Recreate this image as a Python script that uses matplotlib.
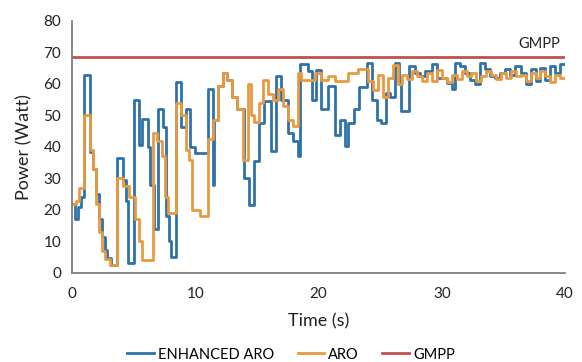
import matplotlib.pyplot as plt

# tempos de inicio de cada degrau (s) e potencia (W)
t_enh = [0, 0.25, 0.45, 0.75, 0.98, 1.42, 1.7, 1.95, 2.2, 2.45, 2.65, 2.85, 3.15,
         3.65, 4.1, 4.35, 4.55, 5.0, 5.4, 5.68, 6.14, 6.35, 6.6, 7.0, 7.4, 7.65,
         7.85, 8.05, 8.4, 8.85, 9.2, 9.6, 9.95, 10.4, 11.0, 11.4, 11.5, 11.8, 12.2,
         12.6, 13.0, 13.4, 13.96, 14.37, 14.78, 15.19, 15.6, 16.1, 16.5, 16.95,
         17.5, 17.9, 18.3, 18.5, 19.1, 19.5, 19.8, 20.2, 20.75, 21.3, 21.7, 22.1,
         22.4, 22.9, 23.3, 23.9, 24.3, 24.7, 25.1, 25.5, 25.8, 26.2, 26.5, 26.7,
         27.3, 27.8, 28.2, 28.6, 29.2, 29.6, 30.0, 30.4, 30.8, 31.1, 31.5, 31.9,
         32.3, 32.7, 33.1, 33.5, 33.9, 34.3, 34.7, 35.1, 35.5, 35.97, 36.4, 36.8,
         37.2, 37.6, 38.0, 38.4, 38.8, 39.2, 39.6]
p_enh = [22, 17, 21, 24, 63, 38.5, 33, 25, 17, 11.5, 7.3, 4.8, 2.6,
         36.5, 29.5, 23, 3, 55, 40.5, 49, 40, 28, 14, 52, 46.5, 18,
         10, 5, 60.5, 46.5, 52, 40, 38, 38, 58.5, 28, 48.7, 59.3, 63.5,
         61.4, 56, 52, 30, 21.6, 35.4, 47.6, 54.6, 38.7, 62.5, 55,
         44.5, 42, 37, 66.2, 64, 55, 64.5, 52, 59.3, 43.9, 48.7, 40.2,
         47.6, 52, 59, 66.8, 55, 48.7, 47.6, 57, 55.8, 66.8, 60, 51.4,
         65.7, 63.5, 62.5, 64, 66.2, 62, 62, 60.4, 58.3, 66.8, 65.7, 63.5,
         61.4, 59.9, 66.8, 64.6, 62.5, 62, 63.5, 64.6, 63, 65.7, 63.5, 59.9,
         64.6, 61, 65, 61.4, 65.7, 63.5, 66.2]

t_aro = [0, 0.3, 0.55, 0.98, 1.42, 1.7, 1.95, 2.2, 2.45, 2.7, 3.1, 3.6, 4.1, 4.6,
         5.1, 5.4, 5.65, 6.55, 6.85, 7.3, 7.5, 7.8, 8.4, 8.8, 9.2, 9.5, 9.75,
         10.4, 11.0, 11.4, 11.8, 12.2, 12.6, 13.0, 13.4, 13.83, 14.24, 14.5,
         14.78, 15.19, 15.46, 15.86, 16.27, 16.68, 17.09, 17.5, 17.9, 18.31,
         18.58, 19.67, 20.21, 20.75, 21.3, 22.4, 23.2, 24.0, 24.4, 24.8, 25.2,
         25.6, 26.0, 26.4, 26.8, 27.2, 27.6, 28.0, 28.4, 28.8, 29.2, 29.6, 30.0,
         30.4, 30.8, 31.2, 31.6, 32.0, 32.4, 32.8, 33.2, 33.6, 34.0, 34.4, 34.8,
         35.2, 35.6, 36.0, 36.4, 36.8, 37.2, 37.6, 38.0, 38.4, 38.8, 39.2, 39.6]
p_aro = [22, 23, 27, 50, 39, 33, 22, 13, 7, 4.5, 2.5, 30, 27.5, 24,
         17, 10, 4, 44.5, 42, 37, 24, 19, 54, 50, 39, 36, 20,
         18, 42.5, 48.7, 59.3, 63.5, 61.4, 56, 52, 36, 60, 50,
         48, 54, 61.4, 56.7, 55, 58.3, 53, 48.7, 46.6, 63.5,
         61.4, 63.5, 61.4, 62.5, 61, 63.5, 64.6, 61, 58, 63, 56,
         62, 66, 60, 63, 61.5, 64, 62.5, 61, 63.5, 61, 64.5, 62,
         60.5, 63, 61.5, 64, 62.5, 63.5, 61, 62.5, 64, 63, 61.5, 63.5,
         62, 64, 62.5, 63, 61, 63.5, 62, 64, 62.5, 60.5, 63, 62]

gmpp = 68.5
t_fim = 40

plt.rcParams['font.family'] = ['Lato', 'DejaVu Sans']

fig = plt.figure(figsize=(5.82, 3.62), dpi=100)
ax = fig.add_axes([0.124, 0.246, 0.847, 0.696])

ax.step(t_enh + [t_fim], p_enh + [p_enh[-1]], where='post', color='#2f72a8', lw=2.0, label='ENHANCED ARO')
ax.step(t_aro + [t_fim], p_aro + [p_aro[-1]], where='post', color='#e99a41', lw=2.0, label='ARO')
ax.plot([0, t_fim], [gmpp, gmpp], color='#c0504d', lw=2.0, label='GMPP')
ax.text(37.9, 72.6, 'GMPP', ha='center', va='center', fontsize=10.5, color='#222222')

ax.set_xlim(0, 40)
ax.set_ylim(0, 80)
ax.set_xticks(range(0, 41, 10))
ax.set_yticks(range(0, 81, 10))
ax.tick_params(axis='y', length=0, labelsize=11, colors='#222222', pad=8)
ax.tick_params(axis='x', length=0, labelsize=11, colors='#222222', pad=10)

for s in ['top', 'right']:
    ax.spines[s].set_visible(False)
for s in ['left', 'bottom']:
    ax.spines[s].set_color('#7f7f7f')
    ax.spines[s].set_linewidth(1.3)

ax.set_xlabel('Time (s)', fontsize=13, color='#222222', labelpad=9)
ax.set_ylabel('Power (Watt)', fontsize=13, color='#222222', labelpad=8)

fig.legend(loc='lower center', bbox_to_anchor=(0.5, -0.035), ncol=3, frameon=False,
           fontsize=10.5, handlelength=1.8, columnspacing=1.6, handletextpad=0.3)

fig.savefig('out.png', dpi=100)
